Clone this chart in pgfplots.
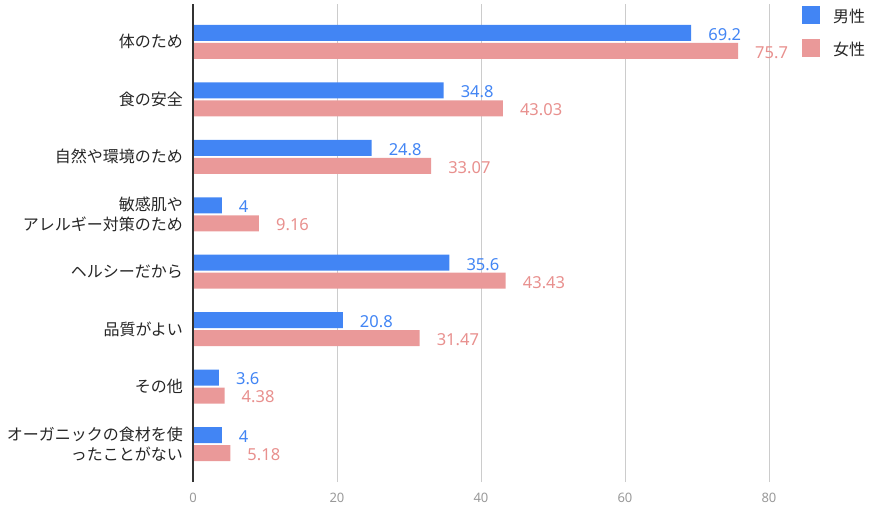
\documentclass[border=0pt]{standalone}
\usepackage{fontspec}
\setmainfont{Noto Sans CJK JP}
\newfontfamily\numfont{Noto Sans}
\usepackage{pgfplots}
\pgfplotsset{compat=1.18}
\definecolor{mblue}{HTML}{4285F4}
\definecolor{fpink}{HTML}{EA9999}
\definecolor{fpinktext}{HTML}{E8908E}
\begin{document}
\begin{tikzpicture}
\useasboundingbox (0bp,0bp) rectangle (875bp,509bp);
\begin{axis}[
  at={(193bp,27bp)}, anchor=south west,
  scale only axis, width=597.6bp, height=478bp,
  xmin=0, xmax=83, ymin=-0.66, ymax=7.66,
  clip=false,
  axis line style={draw=none},
  /pgf/number format/assume math mode=true,
  xtick={0,20,40,60,80}, major tick length=0pt,
  xmajorgrids, grid style={color=black!20, line width=0.9bp},
  xticklabel style={font=\numfont\fontsize{13bp}{13bp}\selectfont, color=black!40, inner sep=0pt, yshift=-10.5bp},
  ytick={0,...,7},
  yticklabels={{オーガニックの食材を使\\ったことがない},{その他},{品質がよい},{ヘルシーだから},{敏感肌や\\アレルギー対策のため},{自然や環境のため},{食の安全},{体のため}},
  yticklabel style={align=right, font=\fontsize{16bp}{20bp}\selectfont, color=black!85, inner sep=0pt, xshift=-10bp},
  bar width=16bp,
  point meta=x,
  nodes near coords={\numfont\fontsize{16.5bp}{16.5bp}\selectfont\pgfmathprintnumber[assume math mode=true]{\pgfplotspointmeta}},
  nodes near coords align={horizontal},
  legend image code/.code={\fill[#1] (0bp,-8bp) rectangle (18bp,10bp); \path (31bp,0bp);},
  legend style={at={(1.019,0.996)}, anchor=north west, draw=none, fill=none,
    font=\fontsize{16bp}{16bp}\selectfont, text=black!85, row sep=15bp, inner sep=0pt,
    nodes={inner sep=0pt}},
  legend cell align=left,
]
\addplot[xbar, bar shift=9bp, fill=mblue, draw=none,
  every node near coord/.append style={text=mblue, anchor=west, inner sep=0pt, xshift=17bp, yshift=7.5bp}]
  coordinates {(4,0) (3.6,1) (20.8,2) (35.6,3) (4,4) (24.8,5) (34.8,6) (69.2,7)};
\addplot[xbar, bar shift=-9bp, fill=fpink, draw=none,
  every node near coord/.append style={text=fpinktext, anchor=west, inner sep=0pt, xshift=17bp, yshift=-10.5bp}]
  coordinates {(5.18,0) (4.38,1) (31.47,2) (43.43,3) (9.16,4) (33.07,5) (43.03,6) (75.7,7)};
\legend{男性,女性}
\draw[color=black!80, line width=1.3bp] (rel axis cs:0,0) -- (rel axis cs:0,1);
\end{axis}
\end{tikzpicture}
\end{document}
